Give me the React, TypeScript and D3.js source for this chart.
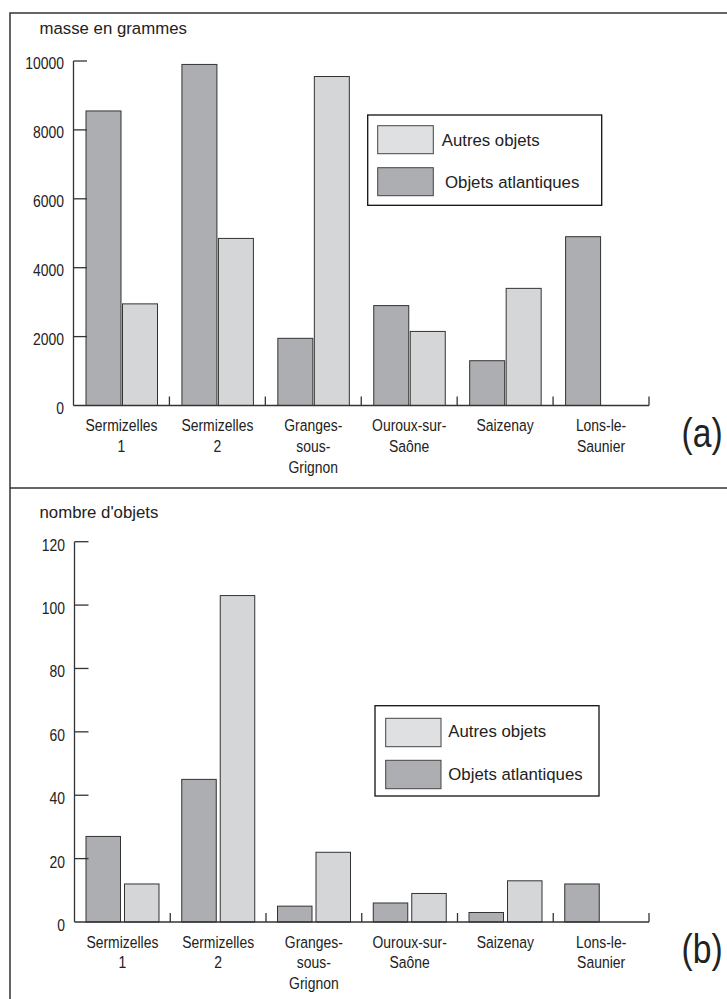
import React from "react";
import * as d3 from "d3";

const categories = ["Sermizelles\n1", "Sermizelles\n2", "Granges-\nsous-\nGrignon", "Ouroux-sur-\nSaône", "Saizenay", "Lons-le-\nSaunier"];
const seriesLabels = ["Autres objets", "Objets atlantiques"];
const massAtlantic = [8550, 9900, 1950, 2900, 1300, 4900];
const massOther = [2950, 4850, 9550, 2150, 3400, 0];
const countAtlantic = [27, 45, 5, 6, 3, 12];
const countOther = [12, 103, 22, 9, 13, 0];
const massTicks = [0, 2000, 4000, 6000, 8000, 10000];
const countTicks = [0, 20, 40, 60, 80, 100, 120];

const DARK = "#adaeb1";
const LIGHT = "#d5d6d8";
const LIGHT_LEG = "#dfe0e1";
const STROKE = "#333";
const SANS = "'Liberation Sans', Arial, Helvetica, sans-serif";
const NARROW_SCALE = 0.82;

function NText(props: { x: number; y: number; size: number; anchor?: string; children: React.ReactNode }) {
  return (
    <text
      transform={`translate(${props.x},${props.y}) scale(${NARROW_SCALE},1)`}
      textAnchor={props.anchor || "start"}
      fontFamily={SANS}
      fontSize={props.size}
      fill="#222"
    >
      {props.children}
    </text>
  );
}

type PanelProps = {
  title: string;
  titleY: number;
  tag: string;
  tagY: number;
  atlantic: number[];
  other: number[];
  ticks: number[];
  axisX: number;
  baseY: number;
  topY: number;
  rightX: number;
  barOffset: number;
  barW: number;
  gap: number;
  tickLen: number;
  labelDy: number;
  legend: { x: number; y: number; w: number; h: number; sx: number; sw: number; sy1: number; sy2: number; sh: number; tx1: number; tx2: number; ty1: number; ty2: number };
};

function Panel(p: PanelProps) {
  const y = d3.scaleLinear().domain([0, p.ticks[p.ticks.length - 1]]).range([p.baseY, p.topY]);
  const x = d3.scaleBand<string>().domain(categories).range([p.axisX, p.rightX]).padding(0);
  const bw = x.bandwidth();
  const series = [
    { vals: p.atlantic, fill: DARK, idx: 0 },
    { vals: p.other, fill: LIGHT, idx: 1 },
  ];
  const L = p.legend;
  return (
    <g>
      <text x={39.5} y={p.titleY} fontFamily={SANS} fontSize={16.8} fill="#222">{p.title}</text>
      {series.map((s) =>
        s.vals.map((v, i) =>
          v > 0 ? (
            <rect
              key={s.idx + "-" + i}
              x={(x(categories[i]) as number) + p.barOffset + s.idx * (p.barW + p.gap)}
              y={y(v)}
              width={p.barW}
              height={p.baseY - y(v)}
              fill={s.fill}
              stroke={STROKE}
              strokeWidth={1}
            />
          ) : null
        )
      )}
      <line x1={p.axisX} x2={p.axisX} y1={y(p.ticks[p.ticks.length - 1])} y2={p.baseY} stroke={STROKE} strokeWidth={1.3} />
      {p.ticks.map((t) => (
        <g key={t}>
          {t > 0 ? <line x1={p.axisX} x2={p.axisX + p.tickLen} y1={y(t)} y2={y(t)} stroke={STROKE} strokeWidth={1.3} /> : null}
          <NText x={p.axisX - 9.5} y={y(t) + p.labelDy} size={17} anchor="end">{t}</NText>
        </g>
      ))}
      <line x1={p.axisX} x2={p.rightX} y1={p.baseY} y2={p.baseY} stroke={STROKE} strokeWidth={1.3} />
      {categories.map((c) => (
        <line key={c} x1={(x(c) as number) + bw} x2={(x(c) as number) + bw} y1={p.baseY} y2={p.baseY - 9} stroke={STROKE} strokeWidth={1.3} />
      ))}
      {categories.map((c) =>
        c.split("\n").map((ln, j) => (
          <NText key={c + j} x={(x(c) as number) + bw / 2} y={p.baseY + 25.5 + j * 20.8} size={17} anchor="middle">{ln}</NText>
        ))
      )}
      <rect x={L.x} y={L.y} width={L.w} height={L.h} fill="#fff" stroke="#111" strokeWidth={1.3} />
      <rect x={L.sx} y={L.sy1} width={L.sw} height={L.sh} fill={LIGHT_LEG} stroke="#444" strokeWidth={1} />
      <rect x={L.sx} y={L.sy2} width={L.sw} height={L.sh} fill={DARK} stroke="#444" strokeWidth={1} />
      <text x={L.tx1} y={L.ty1} fontFamily={SANS} fontSize={16.8} fill="#222">{seriesLabels[0]}</text>
      <text x={L.tx2} y={L.ty2} fontFamily={SANS} fontSize={16.8} fill="#222">{seriesLabels[1]}</text>
      <NText x={681.5} y={p.tagY} size={41}>{p.tag}</NText>
    </g>
  );
}

export default function App() {
  return (
    <svg width={727} height={999} style={{ position: "absolute", left: 0, top: 0, background: "#fff" }}>
      <rect x={0} y={0} width={727} height={999} fill="#fff" />
      <rect x={10} y={13} width={730} height={1000} fill="none" stroke="#333" strokeWidth={1.5} />
      <line x1={10} x2={727} y1={488} y2={488} stroke="#333" strokeWidth={1.5} />
      <Panel
        title="masse en grammes"
        titleY={34.3}
        tag="(a)"
        tagY={447}
        atlantic={massAtlantic}
        other={massOther}
        ticks={massTicks}
        axisX={73.5}
        baseY={405.5}
        topY={61}
        rightX={649}
        barOffset={12.5}
        barW={35}
        gap={1.5}
        tickLen={13.5}
        labelDy={8}
        legend={{ x: 367.7, y: 115, w: 234, h: 90.3, sx: 377.7, sw: 55.6, sy1: 125.7, sy2: 167.7, sh: 28, tx1: 441.7, tx2: 445, ty1: 145.5, ty2: 187.7 }}
      />
      <Panel
        title="nombre d'objets"
        titleY={518.3}
        tag="(b)"
        tagY={963}
        atlantic={countAtlantic}
        other={countOther}
        ticks={countTicks}
        axisX={74.5}
        baseY={922}
        topY={541.7}
        rightX={649}
        barOffset={11.5}
        barW={34.5}
        gap={4}
        tickLen={14}
        labelDy={9}
        legend={{ x: 375, y: 705.7, w: 224, h: 90.3, sx: 385.7, sw: 55.3, sy1: 718.3, sy2: 760.3, sh: 28.4, tx1: 448.3, tx2: 448.3, ty1: 737.3, ty2: 780 }}
      />
    </svg>
  );
}
